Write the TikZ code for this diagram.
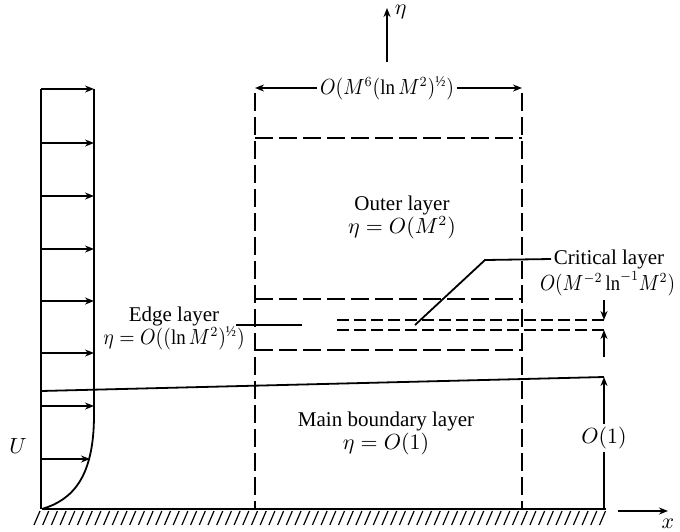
\documentclass[tikz,border=0pt]{standalone}
\usepackage{fontspec}
\usepackage{graphicx}
\setmainfont{Liberation Serif}
\usetikzlibrary{arrows.meta}
\newcommand{\halfsup}{\hbox{\fontsize{7.5}{7.5}\selectfont ½}}
\begin{document}
\begin{tikzpicture}[x=0.5pt,y=-0.5pt, line width=0.9pt,
  boxdash/.style={dash pattern=on 9pt off 3pt},
  critdash/.style={dash pattern=on 6pt off 2.5pt},
  arr/.style={-{Stealth[length=4.5pt,width=3.5pt]}},
  lbl/.style={font=\fontsize{10.5}{11.5}\selectfont, inner sep=1pt, align=center}]
\useasboundingbox (0,0) rectangle (680,531);
% wall and hatching
\coordinate (w0) at (42,509); \coordinate (w1) at (606,509);
\draw (w0) -- (w1);
\foreach \x in {34,42.7,...,600} \draw[line width=0.6pt] (\x,525) -- (\x+6,511);
% velocity profile
\coordinate (pt) at (41,89);
\draw (pt) -- (41,509);
\draw (94,89) -- (94,415) .. controls (94,478) and (72,500) .. (w0);
\foreach \y in {89,143,196,249,301,353,406} \draw[arr] (41,\y) -- (94,\y);
\draw[arr] (41,459) -- (90,459);
\node[lbl] (U) at (18,446) {$U$};
% boundary layer edge
\coordinate (be0) at (41,391); \coordinate (be1) at (604,377);
\draw (be0) -- (be1);
% dashed box
\draw[boxdash] (255,93) -- (255,509);
\draw[boxdash] (522,93) -- (522,509);
\draw[boxdash] (255,138) -- (522,138);
\draw[boxdash] (255,299) -- (522,299);
\draw[boxdash] (255,350) -- (522,350);
\draw[critdash] (337,320) -- (604,320);
\draw[critdash] (337,330) -- (604,330);
% width label
\node[lbl, fill=white] (wlab) at (387,88) {\scalebox{0.9}[1]{$O(M^6(\ln M^2)^{\halfsup})$}};
\coordinate (wl) at (255,88); \coordinate (wr) at (522,88);
\draw[arr] (wlab.west) -- (wl);
\draw[arr] (wlab.east) -- (wr);
% eta axis
\coordinate (e0) at (387,62); \coordinate (e1) at (387,8);
\draw[arr] (e0) -- (e1);
\node[lbl, anchor=west] (eta) at (392,12) {$\eta$};
% x axis
\coordinate (x0) at (618,511); \coordinate (x1) at (668,511);
\draw[arr] (x0) -- (x1);
\node[lbl] (xl) at (668,524) {$x$};
% layer labels
\node[lbl] (outer) at (402,217) {Outer layer\\$\eta=O(M^2)$};
\node[lbl] (edge) at (174,328) {Edge layer\\\scalebox{0.9}[1]{$\eta=O((\ln M^2)^{\halfsup})$}};
\node[lbl] (main) at (386,433) {Main boundary layer\\$\eta=O(1)$};
\coordinate (ep0) at (236,325); \coordinate (ep1) at (302,325);
\draw (ep0) -- (ep1);
% critical layer
\node[lbl, anchor=west] (crit) at (551,259) {Critical layer};
\node[lbl, anchor=east] (critsz) at (678,284) {\scalebox{0.88}[1]{$O(M^{-2}\ln^{-1}\!M^2)$}};
\coordinate (cl0) at (415,325); \coordinate (cl1) at (485,260);
\draw (cl0) -- (cl1) -- (crit.west);
\coordinate (ca0) at (604,300); \coordinate (ca1) at (604,320);
\coordinate (cb0) at (604,357); \coordinate (cb1) at (604,330);
\draw[arr] (ca0) -- (ca1);
\draw[arr] (cb0) -- (cb1);
% O(1)
\node[lbl, fill=white] (o1) at (604,438) {$O(1)$};
\draw[arr] (o1.north) -- (be1);
\draw (o1.south) -- (604,509);
\end{tikzpicture}
\end{document}
